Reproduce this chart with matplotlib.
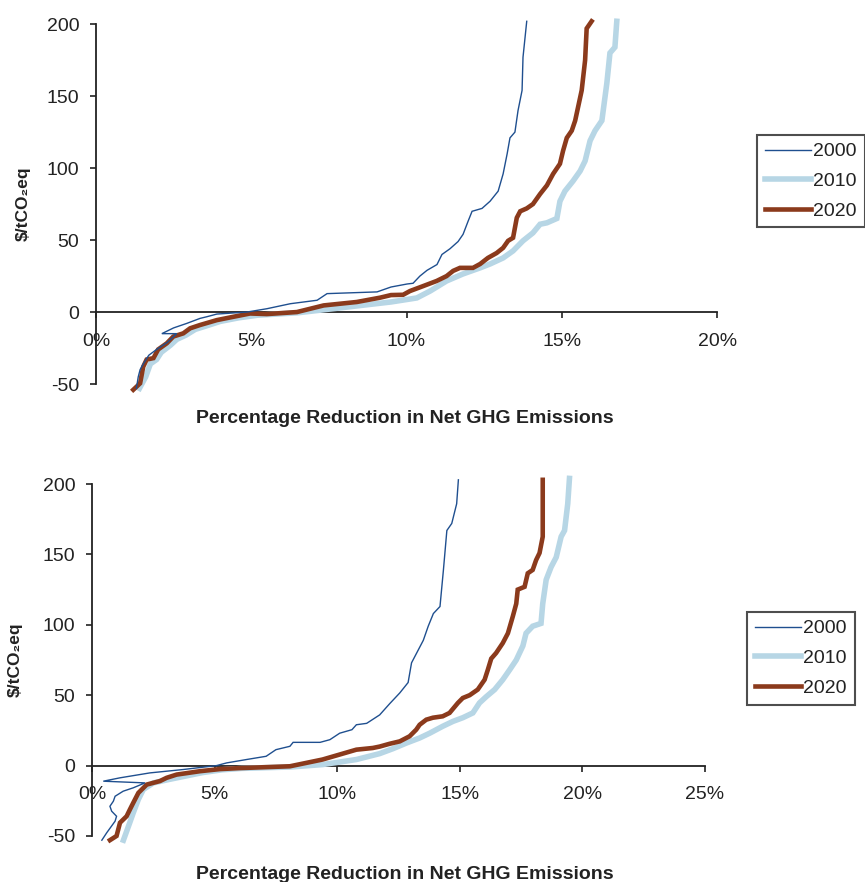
import matplotlib.pyplot as plt
from matplotlib.lines import Line2D

plt.rcParams['font.family'] = ['Liberation Sans', 'DejaVu Sans']
plt.rcParams['axes.unicode_minus'] = False

# top panel (x in % reduction, y in $/tCO2eq)
top_x_2000 = [1.30, 1.36, 1.42, 1.55, 1.70, 1.95, 2.30, 2.60, 2.12, 2.50, 2.92, 3.35, 3.56, 3.89,
              4.86, 5.50, 6.26, 7.12, 7.44, 9.05, 9.50, 10.02, 10.21, 10.43, 10.66, 10.98, 11.14,
              11.40, 11.66, 11.82, 11.98, 12.11, 12.43, 12.69, 12.95, 13.11, 13.24, 13.33, 13.49,
              13.59, 13.72, 13.75, 13.87]
top_y_2000 = [-53, -45, -40, -35, -30, -26, -21, -15, -15, -11, -7.9, -4.4, -3.3, -1.4,
              0, 2.3, 5.8, 8.2, 12.8, 14, 17.4, 19.5, 20, 25, 29, 33, 40,
              44, 49, 54, 63, 70, 72, 77, 84, 96, 110, 121, 125,
              140, 154, 177, 202]

top_x_2010 = [1.40, 1.60, 1.75, 1.95, 2.10, 2.40, 2.60, 2.90, 3.20, 3.50, 4.00, 4.60, 5.20, 6.50,
              7.50, 8.50, 9.50, 10.33, 10.76, 11.29, 11.82, 12.37, 12.69, 13.11, 13.43, 13.75,
              14.07, 14.30, 14.52, 14.84, 14.94, 15.10, 15.36, 15.59, 15.75, 15.91, 16.07, 16.29,
              16.45, 16.55, 16.71, 16.77]
top_y_2010 = [-53, -45, -36, -33, -28, -23, -19, -16, -12, -10, -6.5, -4, -2.2, -0.5,
              2, 4.5, 7, 9.8, 14.6, 21.6, 26.5, 30.7, 33.4, 37.6, 42.5, 49.5,
              55, 61, 62, 65, 77, 84, 91, 98, 105, 119, 126, 133,
              159, 180, 184, 202]

top_x_2020 = [1.20, 1.42, 1.52, 1.63, 1.85, 2.00, 2.28, 2.49, 2.81, 3.03, 3.35, 3.89, 4.42, 4.96,
              5.50, 6.47, 7.33, 8.40, 9.15, 9.50, 9.89, 10.11, 10.53, 10.97, 11.29, 11.50, 11.72,
              12.14, 12.37, 12.62, 12.90, 13.11, 13.27, 13.43, 13.55, 13.66, 13.87, 14.07, 14.30,
              14.52, 14.72, 14.94, 15.04, 15.16, 15.32, 15.43, 15.52, 15.64, 15.75, 15.80, 15.96]
top_y_2020 = [-54, -49.5, -38, -33, -32, -26, -21.7, -17, -14.8, -11.3, -9, -5.6, -3.3, -1,
              -1.4, 0, 4.6, 7, 10, 11.8, 12, 14.6, 18, 21.6, 25, 28.6, 30.7,
              30.7, 33.4, 37.6, 41, 44.6, 49.5, 51.6, 65.5, 70, 72, 75, 82,
              88, 96, 103, 112, 121, 126, 133, 142, 154, 175, 197, 202]

# bottom panel
bot_x_2000 = [0.40, 0.60, 0.94, 1.00, 0.80, 0.73, 0.87, 0.94, 1.27, 1.68, 2.16, 0.46, 1.14, 2.36,
              3.72, 5.08, 5.49, 6.30, 7.10, 7.50, 8.07, 8.20, 9.30, 9.70, 10.10, 10.60, 10.78,
              11.20, 11.73, 12.14, 12.55, 12.89, 13.03, 13.24, 13.51, 13.71, 13.92, 14.19, 14.33,
              14.47, 14.67, 14.87, 14.94]
bot_y_2000 = [-53, -47.7, -39.5, -36, -32.4, -28.9, -25.3, -21.8, -18.2, -15.8, -12.3, -11.1, -8.7, -5.2,
              -2.8, 0, 1.9, 4.3, 6.6, 11.3, 13.7, 16.5, 16.5, 18.4, 23, 25.5, 29,
              30, 36, 44, 51.6, 59, 73, 80, 89, 99, 108, 113, 139,
              167, 172, 186, 203]

bot_x_2010 = [1.28, 1.55, 1.68, 1.89, 2.09, 2.50, 3.10, 3.80, 4.50, 5.30, 6.10, 8.10, 9.40, 10.78,
              11.73, 12.27, 12.82, 13.36, 13.77, 14.30, 14.72, 15.12, 15.53, 15.80, 16.08, 16.42,
              16.75, 17.03, 17.30, 17.57, 17.70, 17.97, 18.31, 18.38, 18.52, 18.72, 18.93, 19.13,
              19.27, 19.40, 19.47]
bot_y_2010 = [-53, -40, -33.6, -24, -17, -12.3, -10, -7.5, -5, -3, -2, -1, 0.7, 4.3,
              8.5, 12, 16, 19.6, 23, 27.9, 31.4, 34, 37.4, 44.5, 49, 54,
              61, 68, 75, 85, 94, 99, 101, 115, 132, 141, 148, 162.6,
              167, 186, 204]

bot_x_2020 = [0.73, 1.00, 1.14, 1.41, 1.55, 1.68, 1.89, 2.23, 2.77, 3.04, 3.45, 4.40, 5.21, 6.00,
              8.07, 9.40, 10.78, 11.45, 11.73, 12.14, 12.55, 12.95, 13.22, 13.36, 13.63, 13.90,
              14.30, 14.58, 14.92, 15.12, 15.40, 15.73, 16.01, 16.14, 16.28, 16.48, 16.75, 16.96,
              17.16, 17.30, 17.36, 17.64, 17.77, 17.97, 18.11, 18.25, 18.38, 18.38]
bot_y_2020 = [-53, -50, -40.6, -36, -31, -26.5, -19.4, -13.5, -11, -8.7, -6.4, -4, -2.5, -1.8,
              -0.5, 4.3, 11.3, 12.5, 13.5, 15.5, 17.2, 20.8, 25.5, 29, 32.6, 34,
              35, 37.4, 44.5, 48, 50, 54, 61, 68, 76, 80, 87, 94,
              106, 115, 125, 127, 136.6, 139, 146, 151, 162.6, 203]

years = ['2000', '2010', '2020']
colors = ['#1f4f8f', '#b7d6e5', '#8b3a1c']
widths = [1.0, 4.0, 3.3]
zorders = [5, 3, 4]

y_ticks = [-50, 0, 50, 100, 150, 200]
top_x_ticks = [0, 5, 10, 15, 20]
bot_x_ticks = [0, 5, 10, 15, 20, 25]
x_label = "Percentage Reduction in Net GHG Emissions"
y_label = "$/tCO₂eq"


def setup_axes(ax, xticks, xmax):
    ax.set_xlim(0, xmax)
    ax.set_ylim(-50, 200)
    ax.spines['top'].set_visible(False)
    ax.spines['right'].set_visible(False)
    ax.spines['bottom'].set_position(('data', 0))
    for s in ['left', 'bottom']:
        ax.spines[s].set_color('#222222')
        ax.spines[s].set_linewidth(1.3)
    ax.set_yticks(y_ticks)
    ax.set_xticks(xticks)
    ax.set_xticklabels([f"{t}%" for t in xticks])
    ax.tick_params(axis='both', direction='out', length=4, width=1.2,
                   colors='#222222', labelsize=14)
    ax.tick_params(axis='x', pad=11)
    ax.tick_params(axis='y', pad=8)
    ax.patch.set_visible(False)


def draw(ax, xs, ys):
    for x, y, c, w, z in zip(xs, ys, colors, widths, zorders):
        ax.plot(x, y, color=c, linewidth=w, zorder=z, clip_on=False,
                solid_joinstyle='miter')


fig = plt.figure(figsize=(8.65, 8.82), dpi=100)

ax1 = fig.add_axes([0.111, 0.5646, 0.718, 0.408])
setup_axes(ax1, top_x_ticks, 20)
draw(ax1, [top_x_2000, top_x_2010, top_x_2020], [top_y_2000, top_y_2010, top_y_2020])

ax2 = fig.add_axes([0.1064, 0.0522, 0.7087, 0.399])
setup_axes(ax2, bot_x_ticks, 25)
draw(ax2, [bot_x_2000, bot_x_2010, bot_x_2020], [bot_y_2000, bot_y_2010, bot_y_2020])

handles = [Line2D([], [], color=c, linewidth=w) for c, w in zip(colors, widths)]

for ax, anchor, ylab_x, xlab_y in [(ax1, (0.875, 0.847), 0.027, 0.526),
                                   (ax2, (0.8636, 0.306), 0.018, 0.009)]:
    leg = fig.legend(handles, years, loc='upper left', bbox_to_anchor=anchor,
                     fontsize=14, frameon=True, fancybox=False, handlelength=2.4,
                     handletextpad=0.1, labelspacing=0.62, borderpad=0.4,
                     borderaxespad=0)
    leg.get_frame().set_edgecolor('#222222')
    leg.get_frame().set_linewidth(1.5)
    for t in leg.get_texts():
        t.set_color('#222222')

    pos = ax.get_position()
    fig.text(ylab_x, (pos.y0 + pos.y1) / 2, y_label, rotation=90, ha='center',
             va='center', fontsize=12.5, fontweight='bold', color='#222222')
    fig.text(405 / 865, xlab_y, x_label, ha='center', va='center',
             fontsize=14, fontweight='bold', color='#222222')

plt.savefig("out.png", dpi=100)
